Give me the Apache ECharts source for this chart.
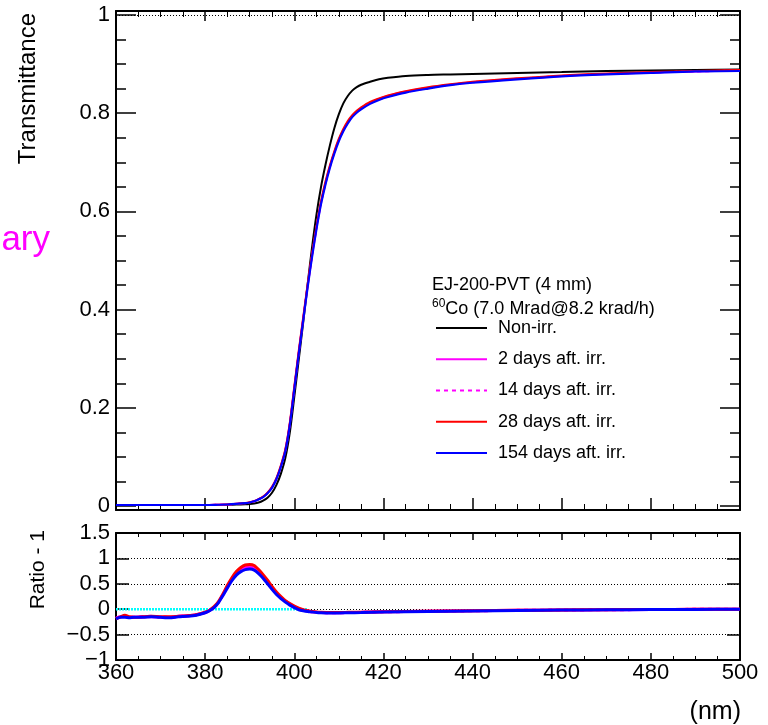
<!DOCTYPE html>
<html>
<head>
<meta charset="utf-8">
<script src="https://cdn.jsdelivr.net/npm/echarts@6/dist/echarts.min.js"></script>
<style>html,body{margin:0;padding:0;background:#fff}#c{width:768px;height:725px}</style>
</head>
<body>
<div id="c"></div>
<script>
// ---- data ----
const wavelength = [360,365,370,375,380,383,385,387,389,390,391,392,393,394,395,396,397,398,399,400,401,402,403,404,405,406,407,408,409,410,411,412,413,414,415,417,419,421,425,430,435,440,450,460,470,480,490,500];
const tNonIrr = [.002,.002,.002,.002,.002,.002,.0025,.003,.0035,.004,.005,.007,.011,.017,.027,.043,.066,.098,.150,.222,.298,.374,.452,.528,.595,.650,.695,.735,.770,.798,.820,.835,.846,.853,.858,.864,.869,.872,.876,.878,.879,.880,.882,.884,.886,.887,.888,.889];
const t2days = [.002,.002,.002,.002,.002,.0025,.003,.0044,.0059,.0074,.0098,.0138,.0185,.0265,.038,.056,.082,.114,.168,.240,.313,.381,.449,.511,.568,.618,.658,.692,.721,.746,.766,.782,.794,.803,.810,.821,.829,.835,.844,.852,.858,.863,.870,.876,.880,.883,.885,.887];
const t14days = [.002,.002,.002,.002,.002,.0025,.003,.0043,.0058,.0073,.0097,.0137,.0183,.0262,.0375,.0555,.081,.113,.167,.239,.312,.380,.448,.510,.567,.617,.657,.691,.720,.745,.765,.781,.793,.802,.809,.820,.828,.834,.843,.851,.858,.863,.870,.876,.880,.883,.885,.887];
const t28days = [.002,.002,.002,.002,.002,.0025,.003,.0045,.006,.0075,.010,.014,.019,.027,.039,.057,.083,.116,.170,.243,.316,.384,.452,.514,.571,.621,.661,.694,.723,.748,.768,.784,.796,.805,.812,.823,.830,.836,.845,.853,.859,.864,.871,.877,.881,.884,.886,.888];
const t154days = [.002,.002,.002,.002,.002,.0025,.003,.0042,.0058,.0072,.0095,.0135,.018,.026,.037,.055,.080,.112,.165,.237,.310,.378,.446,.508,.565,.615,.655,.689,.718,.743,.763,.779,.792,.801,.808,.819,.827,.833,.842,.850,.857,.862,.869,.875,.879,.882,.885,.886];

const ratioWavelength = [360,361,362,363,364,366,368,370,372,374,376,378,380,381,382,383,384,385,386,387,388,389,390,391,392,393,394,395,396,397,398,399,400,401,402,403,404,405,406,408,410,412,415,420,430,440,450,460,470,480,490,500];
const r2days = [-0.18,-0.15,-0.14,-0.16,-0.16,-0.15,-0.15,-0.16,-0.16,-0.14,-0.13,-0.11,-0.065,-0.025,0.04,0.14,0.29,0.45,0.60,0.71,0.79,0.83,0.84,0.82,0.75,0.65,0.54,0.42,0.32,0.23,0.16,0.10,0.05,0.01,-0.02,-0.035,-0.05,-0.06,-0.065,-0.07,-0.07,-0.066,-0.061,-0.052,-0.042,-0.032,-0.023,-0.016,-0.011,-0.006,-0.003,-0.001];
const r14days = [-0.18,-0.14,-0.13,-0.15,-0.16,-0.15,-0.14,-0.15,-0.16,-0.14,-0.13,-0.11,-0.065,-0.025,0.04,0.14,0.28,0.44,0.59,0.70,0.78,0.82,0.83,0.81,0.74,0.64,0.53,0.42,0.31,0.23,0.16,0.10,0.05,0.01,-0.02,-0.035,-0.05,-0.06,-0.065,-0.07,-0.07,-0.066,-0.061,-0.052,-0.042,-0.032,-0.023,-0.016,-0.011,-0.006,-0.003,-0.001];
const r28days = [-0.19,-0.15,-0.12,-0.15,-0.16,-0.15,-0.14,-0.15,-0.15,-0.14,-0.13,-0.11,-0.06,-0.02,0.05,0.15,0.30,0.47,0.62,0.74,0.82,0.87,0.88,0.86,0.78,0.68,0.57,0.45,0.34,0.25,0.17,0.11,0.06,0.02,-0.01,-0.03,-0.045,-0.055,-0.06,-0.065,-0.065,-0.062,-0.058,-0.05,-0.04,-0.03,-0.022,-0.015,-0.01,-0.006,-0.003,0.0];
const r154days = [-0.19,-0.16,-0.16,-0.17,-0.16,-0.16,-0.15,-0.16,-0.17,-0.15,-0.14,-0.12,-0.07,-0.03,0.03,0.13,0.27,0.42,0.56,0.67,0.74,0.78,0.79,0.77,0.70,0.61,0.50,0.39,0.29,0.21,0.14,0.08,0.03,-0.01,-0.03,-0.045,-0.055,-0.065,-0.07,-0.075,-0.075,-0.07,-0.065,-0.055,-0.045,-0.035,-0.025,-0.018,-0.012,-0.007,-0.004,-0.002];
const refWavelength = [360, 403];
const refRatio = [0, 0];

const seriesNames = ['Non-irr.', '2 days aft. irr.', '14 days aft. irr.', '28 days aft. irr.', '154 days aft. irr.'];
const yTicksTop = [0, 0.2, 0.4, 0.6, 0.8, 1];
const yTicksRatio = [-1, -0.5, 0, 0.5, 1, 1.5];
const xTicks = [360, 380, 400, 420, 440, 460, 480, 500];

// ---- presentation ----
const FONT = "'Liberation Sans', Arial, Helvetica, sans-serif";
const pairs = (xs, ys) => xs.map((x, i) => [x, ys[i]]);
const frame = { show: true, onZero: false, lineStyle: { color: '#000', width: 2 } };
const noLine = { show: false };

const chart = echarts.init(document.getElementById('c'), null, { renderer: 'canvas' });

function xAxisDef(grid, pos, opts) {
  return Object.assign({
    type: 'value', gridIndex: grid, position: pos, min: xTicks[0], max: xTicks[xTicks.length - 1], interval: 20,
    axisLine: frame,
    axisTick: { show: true, inside: true, length: 12, lineStyle: { color: '#000', width: 1.5 } },
    minorTick: { show: true, splitNumber: 4, length: 6, lineStyle: { color: '#000', width: 1 } },
    axisLabel: { show: false }, splitLine: { show: false }
  }, opts || {});
}

const option = {
  animation: false,
  backgroundColor: '#fff',
  grid: [
    { left: 116, right: 28, top: 11, bottom: 215, outerBoundsMode: 'none' },
    { left: 116, right: 28, top: 15, bottom: 219, outerBoundsMode: 'none' },
    { left: 116, right: 28, top: 533, bottom: 65, outerBoundsMode: 'none' }
  ],
  xAxis: [
    xAxisDef(0, 'bottom'),
    xAxisDef(0, 'top', { axisTick: { show: true, inside: true, length: 10, lineStyle: { color: '#000', width: 1.5 } }, minorTick: { show: true, splitNumber: 4, length: 6, lineStyle: { color: '#000', width: 1 } } }),
    { type: 'value', gridIndex: 1, min: 360, max: 500, show: false },
    xAxisDef(2, 'bottom', {
      axisTick: { show: true, inside: true, length: 7, lineStyle: { color: '#000', width: 1.5 } },
      minorTick: { show: true, splitNumber: 4, length: 4, lineStyle: { color: '#000', width: 1 } },
      axisLabel: { show: true, margin: 2, color: '#000', fontSize: 22, fontFamily: FONT }
    }),
    xAxisDef(2, 'top', {
      axisTick: { show: true, inside: true, length: 7, lineStyle: { color: '#000', width: 1.5 } },
      minorTick: { show: true, splitNumber: 4, length: 4, lineStyle: { color: '#000', width: 1 } }
    })
  ],
  yAxis: [
    // data axes of the top panel (frame lines only)
    { type: 'value', gridIndex: 0, position: 'left', min: -0.00815, max: 1.00815, axisLine: frame, axisTick: noLine, axisLabel: noLine, splitLine: noLine },
    { type: 'value', gridIndex: 0, position: 'right', min: -0.00815, max: 1.00815, axisLine: frame, axisTick: noLine, axisLabel: noLine, splitLine: noLine },
    // tick/label axes of the top panel
    { type: 'value', gridIndex: 1, position: 'left', min: yTicksTop[0], max: yTicksTop[yTicksTop.length - 1], interval: 0.2,
      axisLine: noLine,
      axisTick: { show: true, inside: true, length: 20, lineStyle: { color: '#000', width: 1.5 } },
      minorTick: { show: true, splitNumber: 4, length: 10, lineStyle: { color: '#000', width: 1.5 } },
      axisLabel: { show: true, margin: 6, color: '#000', fontSize: 22, fontFamily: FONT },
      splitLine: noLine },
    { type: 'value', gridIndex: 1, position: 'right', min: 0, max: 1, interval: 0.2,
      axisLine: noLine,
      axisTick: { show: true, inside: true, length: 20, lineStyle: { color: '#000', width: 1.5 } },
      minorTick: { show: true, splitNumber: 4, length: 10, lineStyle: { color: '#000', width: 1.5 } },
      axisLabel: noLine, splitLine: noLine },
    // ratio panel
    { type: 'value', gridIndex: 2, position: 'left', min: yTicksRatio[0], max: yTicksRatio[yTicksRatio.length - 1], interval: 0.5,
      axisLine: frame,
      axisTick: { show: true, inside: true, length: 13, lineStyle: { color: '#000', width: 1.5 } },
      axisLabel: { show: true, margin: 6, color: '#000', fontSize: 22, fontFamily: FONT,
        formatter: v => String(v).replace('-', '\u2212') },
      splitLine: { show: true, showMinLine: false, showMaxLine: false, lineStyle: { color: '#000', width: 1, type: [1, 2] } } },
    { type: 'value', gridIndex: 2, position: 'right', min: -1, max: 1.5, interval: 0.5,
      axisLine: frame,
      axisTick: { show: true, inside: true, length: 13, lineStyle: { color: '#000', width: 1.5 } },
      axisLabel: noLine, splitLine: noLine }
  ],
  legend: {
    data: seriesNames,
    orient: 'vertical', left: 430, top: 314,
    itemWidth: 51, itemHeight: 14, itemGap: 13.25,
    itemStyle: { opacity: 0 },
    textStyle: { fontSize: 18, fontFamily: FONT, color: '#000', lineHeight: 18, padding: [0, 0, 0, 6] },
    selectedMode: false
  },
  graphic: [
    { type: 'text', x: 28, y: 13, rotation: Math.PI / 2, silent: true,
      style: { text: 'Transmittance', font: '24px ' + FONT, fill: '#000', align: 'right', verticalAlign: 'middle' } },
    { type: 'text', x: 38, y: 530, rotation: Math.PI / 2, silent: true,
      style: { text: 'Ratio - 1', font: '21px ' + FONT, fill: '#000', align: 'right', verticalAlign: 'middle' } },
    { type: 'text', x: 741, y: 712, silent: true,
      style: { text: '(nm)', font: '25px ' + FONT, fill: '#000', align: 'right', verticalAlign: 'middle' } },
    { type: 'text', x: 50, y: 240, silent: true,
      style: { text: 'Preliminary', font: '35px ' + FONT, fill: '#ff00ff', align: 'right', verticalAlign: 'middle' } },
    { type: 'text', x: 432, y: 285, silent: true,
      style: { text: 'EJ-200-PVT (4 mm)', font: '18px ' + FONT, fill: '#000', align: 'left', verticalAlign: 'middle' } },
    { type: 'text', x: 432, y: 308, silent: true,
      style: { text: '{sup|60}{n|Co (7.0 Mrad@8.2 krad/h)}', align: 'left', verticalAlign: 'middle',
        rich: { sup: { fontSize: 12, fontFamily: FONT, fill: '#000', verticalAlign: 'top', lineHeight: 20 },
                n: { fontSize: 18, fontFamily: FONT, fill: '#000', verticalAlign: 'bottom', lineHeight: 20 } } } }
  ],
  series: [
    { name: seriesNames[0], type: 'line', xAxisIndex: 0, yAxisIndex: 0, data: pairs(wavelength, tNonIrr), symbol: 'none',
      smooth: 0.3, lineStyle: { color: '#000', width: 2 }, itemStyle: { color: '#000' }, emphasis: { disabled: true },
      markLine: { silent: true, symbol: 'none', label: { show: false }, animation: false,
        lineStyle: { color: '#000', width: 1, type: [1, 2] }, data: [{ yAxis: 1 }] } },
    { name: seriesNames[1], type: 'line', xAxisIndex: 0, yAxisIndex: 0, data: pairs(wavelength, t2days), symbol: 'none',
      smooth: 0.3, lineStyle: { color: '#ff00ff', width: 2 }, itemStyle: { color: '#ff00ff' }, emphasis: { disabled: true } },
    { name: seriesNames[2], type: 'line', xAxisIndex: 0, yAxisIndex: 0, data: pairs(wavelength, t14days), symbol: 'none',
      smooth: 0.3, lineStyle: { color: '#ff00ff', width: 2, type: [4, 4] }, itemStyle: { color: '#ff00ff' }, emphasis: { disabled: true } },
    { name: seriesNames[3], type: 'line', xAxisIndex: 0, yAxisIndex: 0, data: pairs(wavelength, t28days), symbol: 'none',
      smooth: 0.3, lineStyle: { color: '#ff0000', width: 2 }, itemStyle: { color: '#ff0000' }, emphasis: { disabled: true } },
    { name: seriesNames[4], type: 'line', xAxisIndex: 0, yAxisIndex: 0, data: pairs(wavelength, t154days), symbol: 'none',
      smooth: 0.3, lineStyle: { color: '#0000ff', width: 2.2 }, itemStyle: { color: '#0000ff' }, emphasis: { disabled: true } },

    { name: 'Non-irr. ratio', type: 'line', xAxisIndex: 3, yAxisIndex: 4, data: pairs(refWavelength, refRatio), symbol: 'none',
      lineStyle: { color: '#00ffff', width: 2.5, type: [2, 1] }, emphasis: { disabled: true } },
    { name: seriesNames[1], type: 'line', xAxisIndex: 3, yAxisIndex: 4, data: pairs(ratioWavelength, r2days), symbol: 'none',
      smooth: 0.2, lineStyle: { color: '#ff00ff', width: 3 }, emphasis: { disabled: true } },
    { name: seriesNames[2], type: 'line', xAxisIndex: 3, yAxisIndex: 4, data: pairs(ratioWavelength, r14days), symbol: 'none',
      smooth: 0.2, lineStyle: { color: '#ff00ff', width: 3, type: [4, 4] }, emphasis: { disabled: true } },
    { name: seriesNames[3], type: 'line', xAxisIndex: 3, yAxisIndex: 4, data: pairs(ratioWavelength, r28days), symbol: 'none',
      smooth: 0.2, lineStyle: { color: '#ff0000', width: 3 }, emphasis: { disabled: true } },
    { name: seriesNames[4], type: 'line', xAxisIndex: 3, yAxisIndex: 4, data: pairs(ratioWavelength, r154days), symbol: 'none',
      smooth: 0.2, lineStyle: { color: '#0000ff', width: 3 }, emphasis: { disabled: true } }
  ]
};
chart.setOption(option);
</script>
</body>
</html>
